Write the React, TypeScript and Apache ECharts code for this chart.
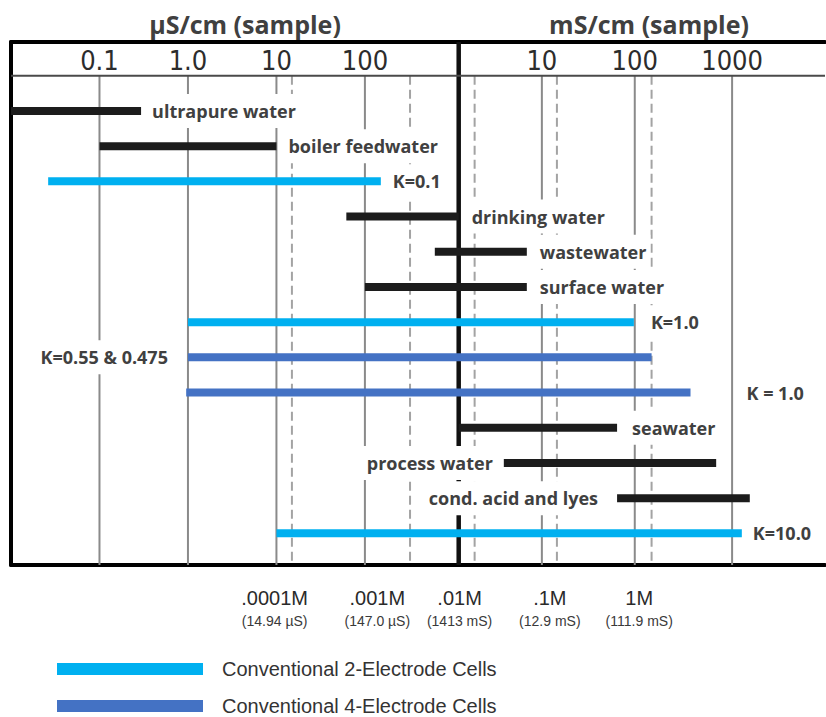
import React, { useEffect, useRef } from "react";
import * as echarts from "echarts";

// Scale positions are in decades of µS/cm (0 = 1 µS/cm, 3 ≈ 1 mS/cm).
const CATEGORIES = [
  "ultrapure water",
  "boiler feedwater",
  "K=0.1",
  "drinking water",
  "wastewater",
  "surface water",
  "K=1.0",
  "K=0.55 & 0.475",
  "K = 1.0",
  "seawater",
  "process water",
  "cond. acid and lyes",
  "K=10.0",
];
const RANGE_LOW = [-2.0, -1.0, -1.58, 1.79, 2.79, 2.0, 0.0, 0.0, -0.02, 3.06, 3.57, 4.85, 1.0];
const RANGE_HIGH = [-0.53, 1.0, 2.18, 3.06, 3.83, 3.83, 5.04, 5.24, 5.68, 4.85, 5.97, 6.35, 6.26];
const CELL_TYPE = ["app", "app", "2", "app", "app", "app", "2", "4", "4", "app", "app", "app", "2"];

const TOP_TICK_POS = [-1, 0, 1, 2, 4, 5.05, 6.15];
const TOP_TICK_LABELS = ["0.1", "1.0", "10", "100", "10", "100", "1000"];
const DASHED_POS = [1.175, 2.51, 3.24, 4.17, 5.24];
const DIVIDER_POS = 3.06;

const CONC_POS = [0.98, 2.14, 3.07, 4.09, 5.1];
const CONC_LABELS = [".0001M", ".001M", ".01M", ".1M", "1M"];
const CONC_SUB = ["(14.94 µS)", "(147.0 µS)", "(1413 mS)", "(12.9 mS)", "(111.9 mS)"];

const UNIT_LEFT = "µS/cm (sample)";
const UNIT_RIGHT = "mS/cm (sample)";
const NAME_2 = "Conventional 2-Electrode Cells";
const NAME_4 = "Conventional 4-Electrode Cells";

// label layout (style, not data)
const LABEL_SIDE = ["r", "r", "r", "r", "r", "r", "r", "l", "r", "r", "l", "l", "r"];
const LABEL_GAP = [11, 12, 12, 13, 13, 13, 17, 20, 56, 15, 11, 19, 11];

const X_MIN = -2;
const X_MAX = 7.2;
const Y_MIN = -1.96;
const Y_MAX = 12.9;
const HEADER_Y = -1;

const COLORS: Record<string, string> = { app: "#1c1c1c", "2": "#00b0f0", "4": "#4472c4" };
const LABEL_FONT = "bold 18px 'Open Sans', sans-serif";
const PAD_H = 4;

function barRender(params: any, api: any) {
  const lo = api.value(0);
  const hi = api.value(1);
  const row = api.value(2);
  const idx = api.value(3);
  const s = api.coord([lo, row]);
  const e = api.coord([hi, row]);
  const color = COLORS[CELL_TYPE[idx]];
  const side = LABEL_SIDE[idx];
  const gap = LABEL_GAP[idx] - PAD_H;
  const tx = side === "r" ? e[0] + gap : s[0] - gap;
  return {
    type: "group",
    children: [
      {
        type: "text",
        style: {
          text: CATEGORIES[idx],
          x: tx,
          y: s[1],
          align: side === "r" ? "left" : "right",
          verticalAlign: "middle",
          font: LABEL_FONT,
          fill: "#404040",
          backgroundColor: "#ffffff",
          padding: [8, PAD_H, 8, PAD_H],
        },
      },
      {
        type: "rect",
        shape: { x: s[0], y: s[1] - 4, width: e[0] - s[0], height: 8 },
        style: { fill: color },
      },
    ],
  };
}

function gridRender(params: any, api: any) {
  const x = api.value(0);
  const kind = api.value(1);
  const top = api.coord([x, kind === 2 ? Y_MIN : HEADER_Y]);
  const bot = api.coord([x, Y_MAX]);
  const style =
    kind === 0
      ? { stroke: "#8a8a8a", lineWidth: 2 }
      : kind === 1
      ? { stroke: "#a3a3a3", lineWidth: 2, lineDash: [9, 5] }
      : { stroke: "#111111", lineWidth: 4.5 };
  return {
    type: "line",
    shape: { x1: top[0], y1: top[1], x2: bot[0], y2: bot[1] },
    style,
  };
}

function headerRender(params: any, api: any) {
  const a = api.coord([X_MIN, HEADER_Y]);
  const b = api.coord([X_MAX, HEADER_Y]);
  return {
    type: "line",
    shape: { x1: a[0], y1: a[1], x2: b[0], y2: b[1] },
    style: { stroke: "#4a4a4a", lineWidth: 2 },
  };
}

function seriesData(type: string) {
  const out: number[][] = [];
  CATEGORIES.forEach((_, i) => {
    if (CELL_TYPE[i] === type) out.push([RANGE_LOW[i], RANGE_HIGH[i], i, i]);
  });
  return out;
}

export default function App() {
  const ref = useRef<HTMLDivElement>(null);
  useEffect(() => {
    document.body.style.margin = "0";
    if (!ref.current) return;
    const chart = echarts.init(ref.current, undefined, { renderer: "svg" });
    const gridData: number[][] = [
      ...TOP_TICK_POS.map((p) => [p, 0]),
      ...DASHED_POS.map((p) => [p, 1]),
      [DIVIDER_POS, 2],
    ];
    chart.setOption({
      animation: false,
      backgroundColor: "#ffffff",
      grid: { left: 11, right: 1, top: 42, bottom: 152 },
      graphic: [
        {
          type: "text",
          x: 245,
          y: 24,
          style: {
            text: UNIT_LEFT,
            align: "center",
            verticalAlign: "middle",
            font: "bold 25px 'Open Sans', sans-serif",
            fill: "#404040",
          },
        },
        {
          type: "text",
          x: 649,
          y: 24,
          style: {
            text: UNIT_RIGHT,
            align: "center",
            verticalAlign: "middle",
            font: "bold 25px 'Open Sans', sans-serif",
            fill: "#404040",
          },
        },
      ],
      legend: {
        data: [NAME_2, NAME_4],
        orient: "vertical",
        left: 57,
        top: 659,
        padding: 0,
        itemWidth: 146,
        itemHeight: 12,
        itemGap: 17,
        icon: "rect",
        selectedMode: false,
        textStyle: {
          fontSize: 20,
          fontFamily: "'Liberation Sans', Arial, sans-serif",
          color: "#333333",
          padding: [0, 0, 0, 14],
        },
      },
      xAxis: [
        {
          type: "value",
          position: "top",
          min: X_MIN,
          max: X_MAX,
          axisLine: { show: true, onZero: false, lineStyle: { color: "#000", width: 4 } },
          axisTick: { show: false },
          splitLine: { show: false },
          axisLabel: {
            inside: true,
            margin: 5,
            customValues: TOP_TICK_POS,
            formatter: (v: number) => {
              const i = TOP_TICK_POS.findIndex((p) => Math.abs(p - v) < 1e-6);
              return i >= 0 ? TOP_TICK_LABELS[i] : "";
            },
            fontSize: 27,
            fontFamily: "'Liberation Sans Narrow', 'DejaVu Sans Condensed', 'Liberation Sans', sans-serif",
            color: "#2c2c2c",
          },
        },
        {
          type: "value",
          position: "bottom",
          min: X_MIN,
          max: X_MAX,
          axisLine: { show: true, onZero: false, lineStyle: { color: "#000", width: 4 } },
          axisTick: { show: false },
          splitLine: { show: false },
          axisLabel: {
            margin: 20,
            customValues: CONC_POS,
            formatter: (v: number) => {
              const i = CONC_POS.findIndex((p) => Math.abs(p - v) < 1e-6);
              return i >= 0 ? `{a|${CONC_LABELS[i]}}\n{b|${CONC_SUB[i]}}` : "";
            },
            rich: {
              a: {
                fontSize: 20,
                lineHeight: 26,
                fontFamily: "'Liberation Sans', Arial, sans-serif",
                color: "#2a2a2a",
                align: "center",
              },
              b: {
                fontSize: 14,
                lineHeight: 20,
                fontFamily: "'Liberation Sans', Arial, sans-serif",
                color: "#3a3a3a",
                align: "center",
              },
            },
          },
        },
      ],
      yAxis: {
        type: "value",
        inverse: true,
        min: Y_MIN,
        max: Y_MAX,
        axisLine: { show: true, onZero: false, lineStyle: { color: "#000", width: 4 } },
        axisTick: { show: false },
        axisLabel: { show: false },
        splitLine: { show: false },
      },
      series: [
        {
          type: "custom",
          name: "gridlines",
          xAxisIndex: 0,
          z: 1,
          silent: true,
          renderItem: gridRender,
          data: gridData,
        },
        {
          type: "custom",
          name: "header",
          xAxisIndex: 0,
          z: 1,
          silent: true,
          renderItem: headerRender,
          data: [[0, 0]],
        },
        {
          type: "custom",
          name: "Applications",
          xAxisIndex: 0,
          z: 3,
          itemStyle: { color: COLORS.app },
          renderItem: barRender,
          data: seriesData("app"),
        },
        {
          type: "custom",
          name: NAME_2,
          xAxisIndex: 0,
          z: 3,
          itemStyle: { color: COLORS["2"] },
          renderItem: barRender,
          data: seriesData("2"),
        },
        {
          type: "custom",
          name: NAME_4,
          xAxisIndex: 0,
          z: 3,
          itemStyle: { color: COLORS["4"] },
          renderItem: barRender,
          data: seriesData("4"),
        },
      ],
    });
    return () => chart.dispose();
  }, []);
  return <div ref={ref} style={{ width: 826, height: 717 }} />;
}
